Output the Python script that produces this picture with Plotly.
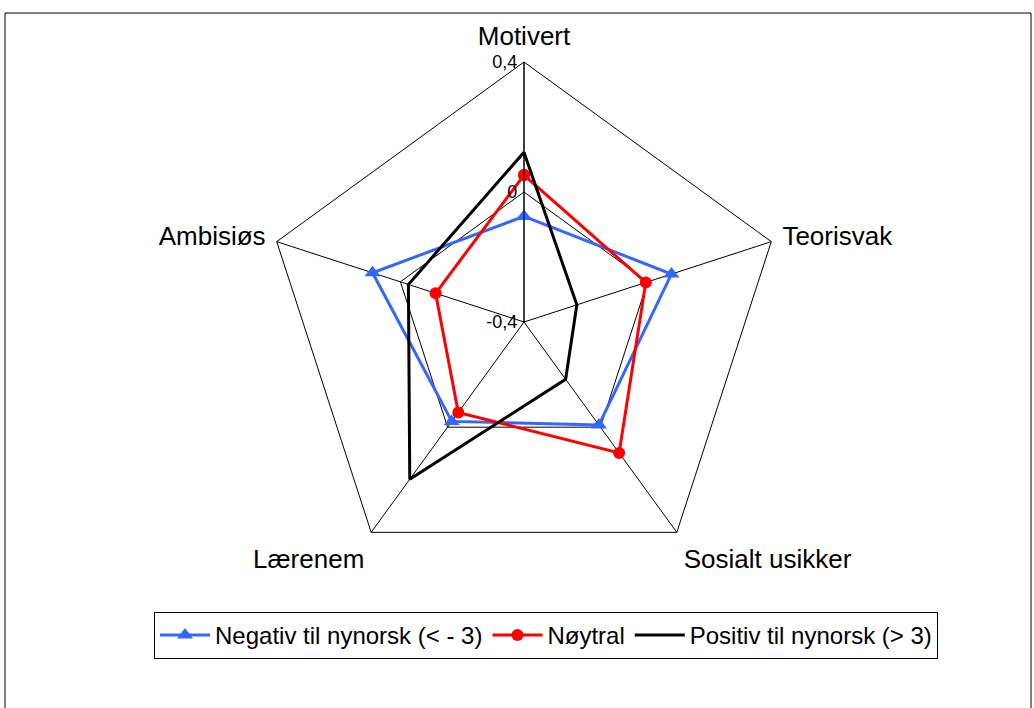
import plotly.graph_objects as go

categories = ["Motivert", "Teorisvak", "Sosialt usikker", "Lærenem", "Ambisiøs"]
negativ = [-0.075, 0.077, -0.008, -0.022, 0.090]
noytral = [0.052, -0.006, 0.098, -0.056, -0.114]
positiv = [0.122, -0.229, -0.182, 0.198, -0.026]
series_names = ["Negativ til nynorsk (< - 3)", "Nøytral", "Positiv til nynorsk (> 3)"]
radial_ticks = [-0.4, 0, 0.4]
radial_ticktext = ["-0,4", "0", "0,4"]

# Plotly hides markers when the radial range is negative, so the radial
# axis is drawn on an offset scale (value - axis minimum) and relabelled.
r_min, r_max = -0.4, 0.4

W, H = 1034, 708
cx, cy, R = 524, 322, 260

def close(v):
    v = [x - r_min for x in v]
    return v + [v[0]]

theta = categories + [categories[0]]

fig = go.Figure()
fig.add_trace(go.Scatterpolar(
    r=close(negativ), theta=theta, name=series_names[0], mode="lines+markers",
    line=dict(color="#3366FF", width=3),
    marker=dict(symbol="triangle-up", size=14, color="#3366FF"),
))
fig.add_trace(go.Scatterpolar(
    r=close(noytral), theta=theta, name=series_names[1], mode="lines+markers",
    line=dict(color="#FF0000", width=3),
    marker=dict(symbol="circle", size=12, color="#FF0000"),
))
fig.add_trace(go.Scatterpolar(
    r=close(positiv), theta=theta, name=series_names[2], mode="lines",
    line=dict(color="#000000", width=3),
))

fig.update_layout(
    width=W, height=H,
    margin=dict(l=0, r=0, t=0, b=0),
    paper_bgcolor="white",
    font=dict(family="Liberation Sans, Arial, sans-serif", color="black"),
    polar=dict(
        domain=dict(x=[(cx - R) / W, (cx + R) / W], y=[(H - cy - R) / H, (H - cy + R) / H]),
        bgcolor="white",
        gridshape="linear",
        angularaxis=dict(
            direction="clockwise", rotation=90,
            showline=True, linecolor="black", linewidth=1,
            gridcolor="black", gridwidth=1,
            tickfont=dict(size=26), ticks="outside", ticklen=6,
            tickcolor="rgba(0,0,0,0)",
        ),
        radialaxis=dict(
            range=[0, r_max - r_min],
            tickvals=[t - r_min for t in radial_ticks], ticktext=radial_ticktext,
            angle=90, tickangle=90, side="counterclockwise",
            showline=True, linecolor="black", linewidth=1,
            gridcolor="black", gridwidth=1,
            tickfont=dict(size=18), ticks="",
        ),
    ),
    legend=dict(
        orientation="h", x=546 / W, xanchor="center", y=(H - 612) / H, yanchor="top",
        bordercolor="black", borderwidth=1, font=dict(size=24), bgcolor="white",
        tracegroupgap=0, itemwidth=50,
    ),
    shapes=[dict(type="rect", xref="paper", yref="paper",
                 x0=5 / W, x1=1031 / W, y0=-0.02, y1=(H - 13) / H,
                 line=dict(color="black", width=1))],
)

fig.write_html("out.html", config={"displayModeBar": False},
               post_script="document.body.style.margin='0px';")
